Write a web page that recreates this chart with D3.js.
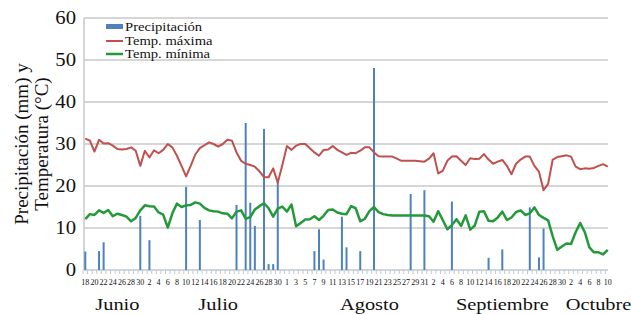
<!DOCTYPE html>
<html><head><meta charset="utf-8">
<script src="https://cdn.jsdelivr.net/npm/d3@7"></script>
<style>body{margin:0;background:#fff}svg{display:block}</style>
</head><body>
<script>
// ---- data ----
const startDate = new Date(2015, 5, 18);
const endDate = new Date(2015, 9, 11);
const days = d3.timeDay.range(startDate, endDate); // 18 Jun .. 10 Oct (115 days)

const precipitation = [
  4.4,0,0,4.5,6.6,0,0,0,0,0,
  0,0,12.9,0,7.1,0,0,0,0,0,
  0,0,19.8,0,0,11.9,0,0,0,0,
  0,0,0,15.5,0,35.0,16.0,10.5,0,33.6,
  1.4,1.4,21.0,0,0,0,0,0,0,0,
  4.5,9.7,2.5,0,0,0,12.7,5.4,0,0,
  4.5,0,0,48.1,0,0,0,0,0,0,
  0,18.1,0,0,19.0,0,0,0,0,0,
  16.3,0,0,0,0,0,0,0,2.9,0,
  0,4.9,0,0,0,0,0,14.9,0,3.0,
  9.9,0,0,0,0,0,0,0,0,0,
  0,0,0,0,0
];
const tempMax = [
  31.3,30.8,28.2,31.0,30.1,30.2,29.6,28.8,28.7,28.8,
  29.2,28.4,24.8,28.4,26.8,28.5,27.8,28.6,30.0,29.2,
  27.2,24.8,22.3,24.8,27.5,29.0,29.7,30.4,30.0,29.4,
  30.0,31.0,30.8,28.0,26.0,25.3,25.0,24.6,23.5,22.1,
  22.1,24.2,20.8,25.0,29.5,28.6,29.6,30.0,30.0,29.0,
  28.0,27.2,28.6,28.7,29.5,28.6,28.0,27.4,27.9,27.8,
  28.4,29.2,29.2,28.0,27.1,27.0,27.0,27.0,26.5,26.0,
  26.0,26.0,26.0,25.9,25.8,26.5,27.8,23.0,23.6,26.0,
  27.0,27.1,26.0,25.0,26.6,26.4,26.5,27.6,26.3,25.3,
  25.8,26.2,24.8,22.8,25.3,26.3,27.0,27.0,24.8,23.4,
  19.0,20.5,26.3,26.9,27.1,27.3,27.0,24.6,24.0,24.2,
  24.1,24.3,24.8,25.2,24.6
];
const tempMin = [
  12.1,13.3,13.1,14.2,13.6,14.3,12.8,13.4,13.1,12.7,
  11.6,12.4,14.2,15.4,15.2,15.1,13.7,13.2,10.1,13.5,
  15.8,15.0,15.4,15.5,16.1,15.8,14.8,14.2,14.0,13.9,
  13.5,13.4,12.3,13.9,14.2,12.2,12.6,14.4,15.2,15.9,
  14.7,12.7,14.6,15.1,13.9,15.6,10.4,11.2,12.0,12.1,
  12.8,11.9,12.9,14.3,14.4,13.7,13.4,13.3,15.2,14.7,
  11.6,12.2,14.0,15.0,13.8,13.3,13.1,13.0,13.0,13.0,
  13.0,13.0,13.0,13.0,13.0,12.8,11.5,14.0,11.9,9.7,
  10.7,12.1,10.5,13.0,9.6,10.6,13.9,14.0,11.7,11.6,
  12.5,13.9,11.9,12.5,13.8,14.2,13.1,13.5,14.9,13.1,
  12.4,11.8,8.0,4.8,5.6,6.3,6.2,9.0,11.2,9.0,
  5.4,4.2,4.2,3.7,4.8
];
const yTicks = [0, 10, 20, 30, 40, 50, 60];
const months = ["Junio", "Julio", "Agosto", "Septiembre", "Octubre"];
const monthLabelDates = [
  new Date(2015, 5, 25, 12), new Date(2015, 6, 17), new Date(2015, 7, 19),
  new Date(2015, 8, 17, 12), new Date(2015, 9, 8)
];
const seriesNames = ["Precipitación", "Temp. máxima", "Temp. mínima"];
const yTitle = ["Precipitación (mm) y", "Temperatura (°C)"];

// ---- chart ----
const W = 631, H = 314;
const colors = { precip: "#4f81bd", max: "#c0504d", min: "#23993a" };
const serif = "'Liberation Serif','Times New Roman',serif";

const svg = d3.select("body").append("svg").attr("width", W).attr("height", H);

const x = d3.scaleBand().domain(days.map(d => +d)).range([83, 610]);
const xc = d => x(+d) + x.bandwidth() / 2;
const y = d3.scaleLinear().domain([0, 60]).range([270, 18]);

// gridlines
svg.append("g").selectAll("line").data(yTicks.filter(t => t > 0)).join("line")
  .attr("x1", 84).attr("x2", 608)
  .attr("y1", d => y(d)).attr("y2", d => y(d))
  .attr("stroke", "#c9c9c9").attr("stroke-width", 1.5);

// y axis line
svg.append("line").attr("x1", 84).attr("x2", 84).attr("y1", y(60)).attr("y2", y(0))
  .attr("stroke", "#c9c9c9").attr("stroke-width", 1.5);

// y tick labels
svg.append("g").selectAll("text").data(yTicks).join("text")
  .attr("transform", d => `translate(76,${y(d)}) scale(1.15,1)`)
  .attr("text-anchor", "end").attr("dy", "0.34em")
  .attr("font-family", serif).attr("font-size", 18).attr("fill", "#111")
  .text(d => d);

// y title
yTitle.forEach((t, i) => {
  svg.append("text")
    .attr("transform", `translate(${28 + i * 20},144) rotate(-90)`)
    .attr("text-anchor", "middle")
    .attr("font-family", serif).attr("font-size", 19).attr("fill", "#111")
    .text(t);
});

// x axis
svg.append("line").attr("x1", 84).attr("x2", 608).attr("y1", y(0)).attr("y2", y(0))
  .attr("stroke", "#bfc9d6").attr("stroke-width", 1.5);
svg.append("g").selectAll("line").data(days).join("line")
  .attr("x1", d => x(+d)).attr("x2", d => x(+d))
  .attr("y1", y(0)).attr("y2", y(0) + 4)
  .attr("stroke", "#bfc9d6").attr("stroke-width", 1);

// x tick labels (every other day)
svg.append("g").selectAll("text").data(days.filter((d, i) => i % 2 === 0)).join("text")
  .attr("x", d => xc(d)).attr("y", 285)
  .attr("text-anchor", "middle")
  .attr("font-family", serif).attr("font-size", 8).attr("fill", "#111")
  .text(d => d.getDate());

// month labels
svg.append("g").selectAll("text").data(months).join("text")
  .attr("transform", (d, i) => `translate(${x(+d3.timeDay.floor(monthLabelDates[i])) + x.bandwidth()/2},310) scale(1.2,1)`)
  .attr("text-anchor", "middle")
  .attr("font-family", serif).attr("font-size", 17).attr("fill", "#111")
  .text(d => d);

// precipitation bars
svg.append("g").selectAll("rect").data(days).join("rect")
  .attr("x", d => xc(d) - 1).attr("width", 2)
  .attr("y", (d, i) => y(precipitation[i]))
  .attr("height", (d, i) => y(0) - y(precipitation[i]))
  .attr("fill", colors.precip);

// temperature lines
const line = arr => d3.line().x((d, i) => xc(days[i])).y(d => y(d))(arr);
svg.append("path").attr("d", line(tempMax)).attr("fill", "none")
  .attr("stroke", colors.max).attr("stroke-width", 2).attr("stroke-linejoin", "round");
svg.append("path").attr("d", line(tempMin)).attr("fill", "none")
  .attr("stroke", colors.min).attr("stroke-width", 2.5).attr("stroke-linejoin", "round");

// legend
const lg = svg.append("g");
lg.append("rect").attr("x", 106).attr("y", 24).attr("width", 17).attr("height", 5).attr("fill", colors.precip);
lg.append("line").attr("x1", 106).attr("x2", 123).attr("y1", 41).attr("y2", 41)
  .attr("stroke", colors.max).attr("stroke-width", 2);
lg.append("line").attr("x1", 106).attr("x2", 123).attr("y1", 54).attr("y2", 54)
  .attr("stroke", colors.min).attr("stroke-width", 2.5);
lg.selectAll("text").data(seriesNames).join("text")
  .attr("transform", (d, i) => `translate(125,${31 + i * 13.5}) scale(1.22,1)`)
  .attr("font-family", serif).attr("font-size", 12).attr("fill", "#111")
  .text(d => d);
</script>
</body></html>
